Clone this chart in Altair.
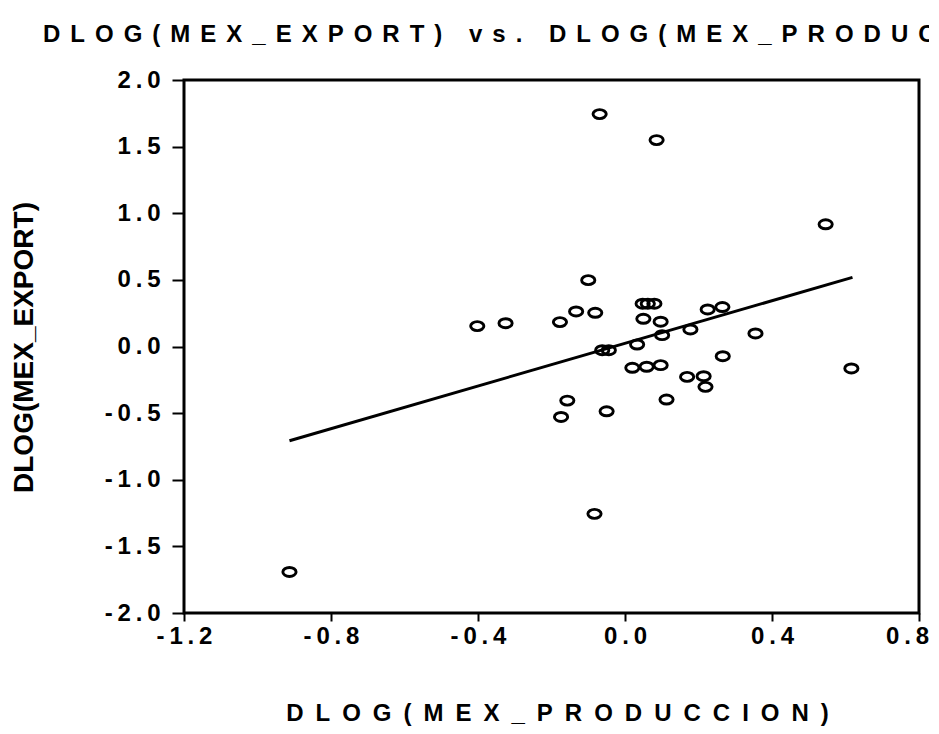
import altair as alt
import pandas as pd

# Scatter points
x_vals = [-0.069, 0.086, 0.546, 0.616, -0.913, -0.083, -0.100, -0.402, -0.325,
          -0.177, -0.133, -0.081, -0.062, -0.044, -0.157, -0.174, -0.050, 0.020,
          0.048, 0.062, 0.080, 0.050, 0.097, 0.101, 0.033, 0.178, 0.225, 0.265,
          0.355, 0.266, 0.059, 0.097, 0.169, 0.214, 0.219, 0.113]
y_vals = [1.744, 1.549, 0.917, -0.165, -1.692, -1.256, 0.498, 0.153, 0.175,
          0.183, 0.263, 0.253, -0.028, -0.028, -0.406, -0.529, -0.486, -0.160,
          0.321, 0.321, 0.321, 0.208, 0.186, 0.085, 0.015, 0.128, 0.278, 0.296,
          0.098, -0.073, -0.152, -0.140, -0.228, -0.223, -0.303, -0.398]

# Fitted line end points
line_x = [-0.913, 0.619]
line_y = [-0.707, 0.519]

x_ticks = [-1.2, -0.8, -0.4, 0.0, 0.4, 0.8]
y_ticks = [-2.0, -1.5, -1.0, -0.5, 0.0, 0.5, 1.0, 1.5, 2.0]

title_text = "DLOG(MEX_EXPORT) vs. DLOG(MEX_PRODUCCION)"
x_title = "DLOG(MEX_PRODUCCION)"
y_title = "DLOG(MEX_EXPORT)"


def spaced(s, sep):
    return sep.join(s)


pts = pd.DataFrame({"x": x_vals, "y": y_vals})
fit = pd.DataFrame({"x": line_x, "y": line_y})

FONT = "Liberation Sans"
ELLIPSE = "M-1,0 A1,0.68 0 1,0 1,0 A1,0.68 0 1,0 -1,0 Z"

xs = alt.Scale(domain=[-1.2, 0.8], nice=False, zero=False)
ys = alt.Scale(domain=[-2.0, 2.0], nice=False, zero=False)

base_label = ("replace(replace(format(datum.value, '.1f'), '\u2212', '-'), "
              "regexp('(.)(?=.)', 'g'), '$1\u2009')")
y_label_expr = base_label
# keep the last x label inside the page edge (word joiner stops the space from hanging)
x_label_expr = ("datum.value > 0.7 ? " + base_label + " + '\u2003\u2060' : " + base_label)

x_axis = alt.Axis(
    values=x_ticks, labelExpr=x_label_expr, title=spaced(x_title, "\u2002"),
    domain=False, grid=False, tickSize=8, tickWidth=2, tickColor="black",
    labelFont=FONT, labelFontSize=24, labelFontWeight="bold", labelColor="black",
    labelPadding=3, labelFlush=False,
    titleFont=FONT, titleFontSize=24, titleFontWeight="bold", titleColor="black",
    titleX=373, titleY=107, titleBaseline="alphabetic", titleAlign="center",
)
y_axis = alt.Axis(
    values=y_ticks, labelExpr=y_label_expr, title=y_title,
    domain=False, grid=False, tickSize=12, tickWidth=2, tickColor="black",
    labelFont=FONT, labelFontSize=24, labelFontWeight="bold", labelColor="black",
    labelPadding=12, labelFlush=False,
    titleFont=FONT, titleFontSize=28, titleFontWeight="bold", titleColor="black",
    titleAngle=270, titleX=-152, titleY=267, titleBaseline="alphabetic",
    titleAlign="center",
)

line = alt.Chart(fit).mark_line(color="black", strokeWidth=3).encode(
    x=alt.X("x:Q", scale=xs, axis=x_axis),
    y=alt.Y("y:Q", scale=ys, axis=y_axis),
)

points = alt.Chart(pts).mark_point(
    shape=ELLIPSE, size=175, filled=False, stroke="black", strokeWidth=2.9, opacity=1
).encode(
    x=alt.X("x:Q", scale=xs),
    y=alt.Y("y:Q", scale=ys),
)

chart = alt.layer(line, points).properties(
    width=735,
    height=533,
    padding={"left": 176, "top": 72, "right": 10, "bottom": 113},
    autosize=alt.AutoSizeParams(type="none"),
    title=alt.TitleParams(
        text=spaced(title_text, "\u2005\u2006"), anchor="start", frame="group", dx=-141,
        offset=2, font=FONT, fontSize=24, fontWeight="bold", color="black",
        baseline="alphabetic",
    ),
    background="white",
).configure_view(stroke="black", strokeWidth=3)

chart.save("out.html", embed_options={"renderer": "svg", "actions": False})
